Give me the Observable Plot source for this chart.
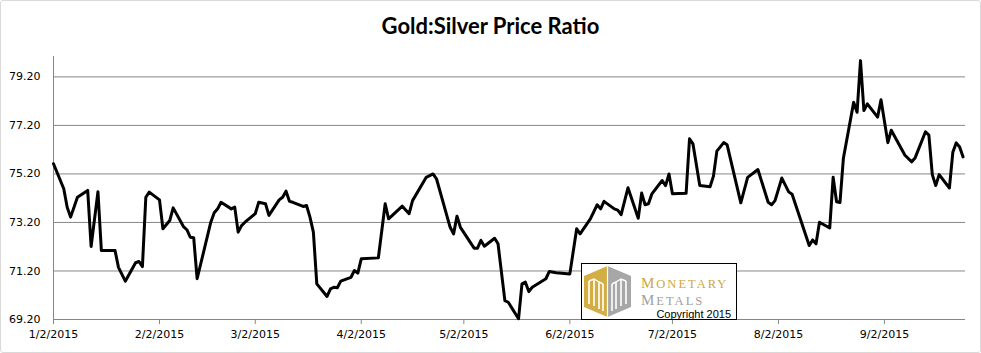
<!DOCTYPE html>
<html>
<head>
<meta charset="utf-8">
<script src="https://cdn.jsdelivr.net/npm/d3@7"></script>
<script src="https://cdn.jsdelivr.net/npm/@observablehq/plot@0.6"></script>
<style>
html, body { margin: 0; padding: 0; background: #fff; }
#wrap { position: relative; width: 981px; height: 353px; overflow: hidden; background: #fff; }
#frame { position: absolute; left: 0; top: 0; width: 979px; height: 351px; border: 1px solid #d9d9d9; border-radius: 3px; pointer-events: none; }
#title { position: absolute; left: 0; top: 13px; width: 981px; text-align: center; font: bold 22px Lato, "Open Sans", sans-serif; line-height: 26px; color: #000; }
#chart { position: absolute; left: 0; top: 0; }
</style>
</head>
<body>
<div id="wrap">
  <div id="chart"></div>
  <div id="title">Gold:Silver Price Ratio</div>
  <div id="frame"></div>
</div>
<script>
const dates = [
  "2015-01-02","2015-01-05","2015-01-06","2015-01-07","2015-01-09","2015-01-12","2015-01-13","2015-01-15","2015-01-16","2015-01-20",
  "2015-01-21","2015-01-23","2015-01-26","2015-01-27","2015-01-28","2015-01-29","2015-01-30","2015-02-02","2015-02-03","2015-02-05",
  "2015-02-06","2015-02-09","2015-02-10","2015-02-11","2015-02-12","2015-02-13","2015-02-17","2015-02-18","2015-02-19","2015-02-20",
  "2015-02-23","2015-02-24","2015-02-25","2015-02-26","2015-02-27","2015-03-02","2015-03-03","2015-03-05","2015-03-06","2015-03-09",
  "2015-03-10","2015-03-11","2015-03-12","2015-03-13","2015-03-16","2015-03-17","2015-03-18","2015-03-19","2015-03-20","2015-03-23",
  "2015-03-24","2015-03-25","2015-03-26","2015-03-27","2015-03-30","2015-03-31","2015-04-01","2015-04-02","2015-04-07","2015-04-09",
  "2015-04-10","2015-04-14","2015-04-16","2015-04-17","2015-04-21","2015-04-23","2015-04-24","2015-04-28","2015-04-29","2015-04-30",
  "2015-05-01","2015-05-05","2015-05-06","2015-05-07","2015-05-08","2015-05-11","2015-05-12","2015-05-14","2015-05-15","2015-05-18",
  "2015-05-19","2015-05-20","2015-05-21","2015-05-22","2015-05-26","2015-05-27","2015-05-29","2015-06-02","2015-06-04","2015-06-05",
  "2015-06-08","2015-06-10","2015-06-11","2015-06-12","2015-06-15","2015-06-16","2015-06-17","2015-06-19","2015-06-22","2015-06-23",
  "2015-06-24","2015-06-25","2015-06-26","2015-06-29","2015-06-30","2015-07-01","2015-07-02","2015-07-06","2015-07-07","2015-07-08",
  "2015-07-10","2015-07-13","2015-07-14","2015-07-15","2015-07-17","2015-07-18","2015-07-22","2015-07-24","2015-07-27","2015-07-30",
  "2015-07-31","2015-08-01","2015-08-03","2015-08-05","2015-08-06","2015-08-11","2015-08-12","2015-08-13","2015-08-14","2015-08-17",
  "2015-08-18","2015-08-19","2015-08-20","2015-08-21","2015-08-24","2015-08-25","2015-08-26","2015-08-27","2015-08-28","2015-08-31",
  "2015-09-01","2015-09-03","2015-09-04","2015-09-08","2015-09-10","2015-09-11","2015-09-14","2015-09-15","2015-09-16","2015-09-17",
  "2015-09-18","2015-09-21","2015-09-22","2015-09-23","2015-09-24","2015-09-25"
];
const ratio = [
  75.62,74.59,73.83,73.42,74.24,74.52,72.21,74.47,72.04,72.04,
  71.35,70.78,71.54,71.59,71.38,74.24,74.45,74.13,72.94,73.28,
  73.80,73.03,72.90,72.59,72.57,70.88,73.21,73.60,73.76,74.03,
  73.76,73.83,72.80,73.07,73.21,73.56,74.03,73.97,73.49,74.13,
  74.24,74.49,74.07,74.03,73.86,73.90,73.42,72.80,70.67,70.15,
  70.46,70.53,70.51,70.78,70.94,71.22,71.11,71.70,71.74,73.97,
  73.35,73.87,73.56,74.10,75.06,75.20,75.00,73.00,72.73,73.46,
  73.00,72.14,72.14,72.46,72.22,72.55,72.32,69.98,69.91,69.23,
  70.67,70.74,70.35,70.53,70.88,71.18,71.13,71.08,72.94,72.73,
  73.35,73.93,73.76,74.07,73.76,73.71,73.52,74.63,73.37,74.41,
  73.93,73.97,74.38,74.93,74.72,75.20,74.38,74.40,76.65,76.44,
  74.72,74.67,75.11,76.14,76.49,76.40,74.01,75.06,75.38,74.03,
  73.93,74.10,75.03,74.46,74.36,72.25,72.48,72.32,73.21,72.97,
  75.06,74.05,74.02,75.85,78.15,77.74,79.87,77.81,78.09,77.54,
  78.26,76.49,77.00,75.97,75.70,75.87,76.94,76.80,75.17,74.72,
  75.17,74.62,76.09,76.48,76.31,75.90
];
const yTicks = [69.2, 71.2, 73.2, 75.2, 77.2, 79.2];
const xTickDates = ["2015-01-02","2015-02-02","2015-03-02","2015-04-02","2015-05-02","2015-06-02","2015-07-02","2015-08-02","2015-09-02"];
const xTickLabels = ["1/2/2015","2/2/2015","3/2/2015","4/2/2015","5/2/2015","6/2/2015","7/2/2015","8/2/2015","9/2/2015"];

const parse = d3.utcParse("%Y-%m-%d");
const data = dates.map((d, i) => ({date: parse(d), value: ratio[i]}));
const xTicks = xTickDates.map(parse);
const labelOf = new Map(xTicks.map((d, i) => [+d, xTickLabels[i]]));
const xStart = parse("2015-01-02");
const xEnd = new Date(Date.UTC(2015, 8, 25, 17));

const grid = "#868686";

const chart = Plot.plot({
  width: 981,
  height: 353,
  marginLeft: 53,
  marginRight: 16,
  marginTop: 56,
  marginBottom: 34,
  style: {fontFamily: "'DejaVu Sans', sans-serif", fontSize: "11px", color: "#000", background: "transparent", overflow: "visible"},
  x: {type: "utc", domain: [xStart, xEnd]},
  y: {domain: [69.2, 80.04]},
  marks: [
    Plot.gridY(yTicks, {stroke: grid, strokeOpacity: 1}),
    Plot.ruleX([xStart], {stroke: grid, strokeOpacity: 1}),
    Plot.ruleY([69.2], {stroke: grid, strokeOpacity: 1}),
    Plot.axisY({ticks: yTicks, tickSize: 0, tickPadding: 13, tickFormat: d => d.toFixed(2), label: null, fill: "#000"}),
    Plot.axisX({ticks: xTicks, tickSize: 5, tickPadding: 6, tickFormat: d => labelOf.get(+d), label: null, stroke: grid, fill: "#000"}),
    Plot.line(data, {x: "date", y: "value", stroke: "#000", strokeWidth: 3, strokeLinejoin: "round", strokeLinecap: "round"})
  ]
});
document.getElementById("chart").appendChild(chart);

// Logo box (decoration)
const svg = d3.select(chart);
const g = svg.append("g").attr("text-anchor", "start");
g.append("rect").attr("x", 581.5).attr("y", 263.5).attr("width", 155).attr("height", 56)
  .attr("fill", "#fff").attr("stroke", "#000").attr("stroke-width", 1);
const gold = "#d3ae45", gray = "#a7a7a7";
g.append("polygon").attr("points", "584,276 607.5,266 607.5,317 584,307").attr("fill", gold);
g.append("polygon").attr("points", "607.5,266 631,276 631,307 607.5,317").attr("fill", gray);
const white = "#fff";
[[589,281,589,304],[594,279,594,306],[599,282,599,309],[603,284,603,311],
 [612,284,612,311],[616,282,616,309],[621,279,621,306],[626,281,626,304]].forEach(l => {
  g.append("line").attr("x1", l[0]).attr("y1", l[1]).attr("x2", l[2]).attr("y2", l[3])
    .attr("stroke", white).attr("stroke-width", 1.6);
});
g.append("line").attr("x1", 607.5).attr("y1", 266).attr("x2", 607.5).attr("y2", 317).attr("stroke", white).attr("stroke-width", 1.2);
g.append("polyline").attr("points", "589,281 594,279 599,282 603,284").attr("fill", "none").attr("stroke", white).attr("stroke-width", 1.4);
g.append("polyline").attr("points", "612,284 616,282 621,279 626,281").attr("fill", "none").attr("stroke", white).attr("stroke-width", 1.4);

const t1 = g.append("text").attr("x", 641).attr("y", 288).attr("fill", "#cfa83c").attr("text-anchor", "start")
  .style("font-family", "'Liberation Serif', serif").style("letter-spacing", "2px");
t1.append("tspan").style("font-size", "15px").text("M");
t1.append("tspan").style("font-size", "12.5px").text("ONETARY");
const t2 = g.append("text").attr("x", 641).attr("y", 304.8).attr("fill", "#a0a0a0").attr("text-anchor", "start")
  .style("font-family", "'Liberation Serif', serif").style("letter-spacing", "2px");
t2.append("tspan").style("font-size", "15px").text("M");
t2.append("tspan").style("font-size", "12.5px").text("ETALS");
g.append("text").attr("x", 731).attr("y", 318).attr("text-anchor", "end").attr("fill", "#000")
  .style("font-family", "'Liberation Sans', sans-serif").style("font-size", "11px").text("Copyright 2015");
</script>
</body>
</html>
